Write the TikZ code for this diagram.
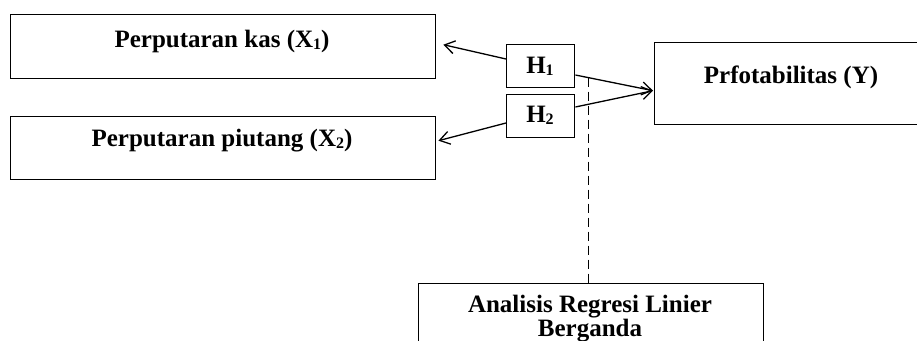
\documentclass[tikz,border=0pt]{standalone}
\usepackage{fontspec}
\setmainfont{Liberation Serif}
\usetikzlibrary{arrows.meta,calc}
\newcommand{\lowsub}[1]{\raisebox{-2.5pt}{\fontsize{16}{16}\selectfont #1}}
\begin{document}
\begin{tikzpicture}[x=1pt,y=-1pt,
  box/.style={draw, line width=1.4pt, inner sep=0pt, anchor=north west},
  lbl/.style={font=\fontsize{25}{22}\selectfont\bfseries, anchor=base, inner sep=0pt},
  arr/.style={line width=1.3pt, -{Straight Barb[length=10pt,width=13pt,line width=1.3pt]}},
  dashline/.style={line width=1.2pt, dash pattern=on 9pt off 5pt}]
\useasboundingbox (0,0) rectangle (917,340);
% boxes
\node[box, minimum width=425pt, minimum height=64pt] (x1) at (10,14) {};
\node[box, minimum width=425pt, minimum height=63pt] (x2) at (10,116) {};
\node[box, minimum width=68pt, minimum height=43pt] (h1) at (506,44) {};
\node[box, minimum width=68pt, minimum height=43pt] (h2) at (506,94) {};
\begin{scope}
  \clip (0,0) rectangle (917,340);
  \node[box, minimum width=280pt, minimum height=82pt] (yb) at (654,42) {};
  \node[box, minimum width=345pt, minimum height=80pt] (reg) at (418,283) {};
\end{scope}
% labels
\node[lbl] (lx1) at (222,47) {Perputaran kas (X\lowsub{1})};
\node[lbl] (lx2) at (222,146) {Perputaran piutang (X\lowsub{2})};
\node[lbl] (ly) at (791,83) {Prfotabilitas (Y)};
\node[lbl] (lh1) at (540,73) {H\lowsub{1}};
\node[lbl] (lh2) at (540,122) {H\lowsub{2}};
\node[lbl] (lr1) at (590,312) {Analisis Regresi Linier};
\node[lbl] (lr2) at (590,336) {Berganda};
% connector points
\coordinate (t1) at ($(x1.east)+(7,-2)$);
\coordinate (t2) at ($(x2.east)+(2,-7.5)$);
\coordinate (ty) at ($(yb.west)+(-1,7)$);
\coordinate (s1) at ($(h1.north east)+(0,31)$);
\coordinate (s2) at ($(h2.north east)+(0,13)$);
% connectors
\draw[arr] ($(h1.north west)+(0,15)$) -- (t1);
\draw[arr] ($(h2.north west)+(0,29)$) -- (t2);
\draw[arr] (s1) -- (ty);
\draw[arr] (s2) -- (ty);
\coordinate (dtop) at ($(s1)!0.165!(ty)$);
\coordinate (dbot) at (dtop |- reg.north);
\draw[dashline] (dtop) -- (dbot);
\end{tikzpicture}
\end{document}
